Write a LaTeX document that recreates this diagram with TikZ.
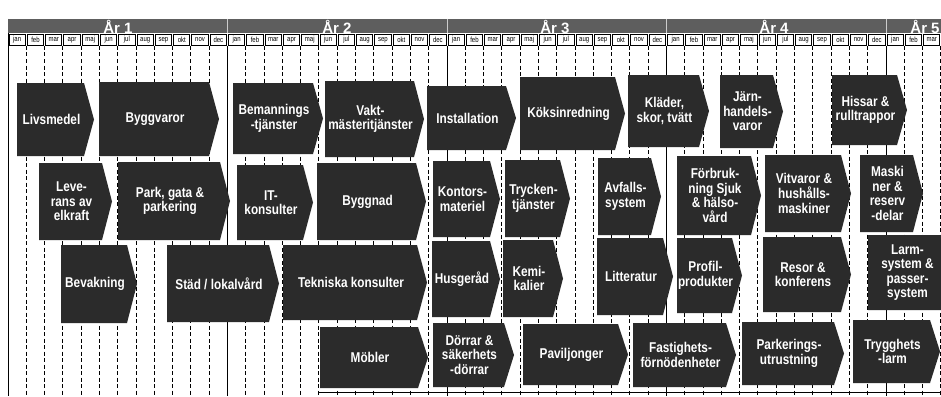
\documentclass[tikz,border=0pt]{standalone}
\usepackage{fontspec}
\setmainfont{Liberation Sans}
\newfontfamily\boxfont[FakeStretch=0.83]{Liberation Sans}
\newfontfamily\monfont[FakeStretch=0.8]{Liberation Sans}
\newcommand\mymonth[1]{\ifcase#1 jan\or feb\or mar\or apr\or maj\or jun\or jul\or aug\or sep\or okt\or nov\or dec\fi}
\tikzset{
  boxfill/.style={fill=black!83},
  boxtext/.style={text=white, font=\boxfont\bfseries\fontsize{14.2}{14.6}\selectfont, align=center, inner sep=0pt},
  band/.style={fill=black!63},
  yeartext/.style={text=white, font=\bfseries\fontsize{15}{15}\selectfont, inner sep=0pt},
  moncell/.style={draw=black, line width=0.9pt, fill=white},
  montext/.style={font=\monfont\fontsize{7.5}{8}\selectfont, inner sep=0pt},
  grid dash/.style={line width=1pt, dash pattern=on 4pt off 2.5pt},
  year line/.style={line width=1pt},
}
\newcommand\chev[6]{%
  \fill[boxfill] (#2,#3) -- ({#4-10},#3) -- (#4,{(#3+#5)/2}) -- ({#4-10},#5) -- (#2,#5) -- cycle;
  \node[boxtext] (#1) at ({(#2+#4-10)/2+1},{(#3+#5)/2}) {#6};
}
\begin{document}
\begin{tikzpicture}[x=1pt,y=-1pt]
\clip (0,0) rectangle (941,396);
\fill[white] (0,0) rectangle (941,396);
% grid lines
\foreach \k in {1,...,51} {
  \pgfmathsetmacro\xa{8+\k*18.292}
  \pgfmathtruncatemacro\m{mod(\k,12)}
  \ifnum\m=0
    \draw[year line] (\xa,46) -- (\xa,396);
  \else
    \draw[grid dash] (\xa,46) -- (\xa,396);
  \fi
}
\draw[year line] (8,19) -- (8,396);
\draw[line width=1pt] (318,392) -- (941,392);
% header band
\fill[band] (8,19) rectangle (941,33);
\foreach \k in {1,...,4} {
  \pgfmathsetmacro\xa{8+\k*219.5}
  \draw[white!80!black, line width=0.6pt] (\xa,19) -- (\xa,33);
}
\node[yeartext] (y1) at (118,26.5) {År 1};
\node[yeartext] (y2) at (337,26.5) {År 2};
\node[yeartext] (y3) at (555,26.5) {År 3};
\node[yeartext] (y4) at (774,26.5) {År 4};
\node[yeartext] (y5) at (925,26.5) {År 5};
% months
\foreach \k in {0,...,50} {
  \pgfmathsetmacro\xa{8+\k*18.292}
  \pgfmathsetmacro\xb{8+(\k+1)*18.292}
  \pgfmathsetmacro\xc{8+(\k+0.5)*18.292}
  \pgfmathtruncatemacro\m{mod(\k,12)}
  \draw[moncell] (\xa+1,34) rectangle (\xb-1,45.5);
  \node[montext] (m\k) at (\xc,39.8) {\mymonth{\m}};
}
% row 1
\chev{livs}{17}{83}{94}{156}{Livsmedel}
\chev{bygg}{99}{82}{219}{156}{Byggvaror}
\chev{beman}{233}{83}{323}{154}{Bemannings\\-tjänster}
\chev{vakt}{325}{81}{424}{157}{Vakt-\\mästeritjänster}
\chev{inst}{427}{86}{516}{150}{Installation}
\chev{koks}{520}{77}{625}{150}{Köksinredning}
\chev{klad}{628}{75}{709}{147}{Kläder,\\skor, tvätt}
\chev{jarn}{720}{75}{783}{148}{Järn-\\handels-\\varor}
\chev{hiss}{832}{75}{907}{145}{Hissar \&\\rulltrappor}
% row 2
\chev{leve}{39}{163}{112}{240}{Leve-\\rans av\\elkraft}
\chev{park}{118}{162}{230}{240}{Park, gata \&\\parkering}
\chev{it}{237}{165}{313}{240}{IT-\\konsulter}
\chev{byggnad}{317}{163}{426}{240}{Byggnad}
\chev{kontor}{433}{161}{500}{237}{Kontors-\\materiel}
\chev{tryck}{505}{160}{570}{237}{Trycken-\\tjänster}
\chev{avfall}{598}{158}{661}{235}{Avfalls-\\system}
\chev{forbr}{677}{156}{761}{235}{Förbruk-\\ning Sjuk\\\& hälso-\\vård}
\chev{vitv}{765}{155}{851}{232}{Vitvaror \&\\hushålls-\\maskiner}
\chev{mask}{860}{155}{923}{232}{Maski\\ner \&\\reserv\\-delar}
% row 3
\chev{bev}{61}{245}{137}{323}{Bevakning}
\chev{stad}{167}{245}{279}{322}{Städ / lokalvård}
\chev{tekn}{283}{245}{427}{320}{Tekniska konsulter}
\chev{husg}{432}{241}{500}{317}{Husgeråd}
\chev{kemi}{503}{240}{563}{317}{Kemi-\\kalier}
\chev{litt}{597}{238}{673}{315}{Litteratur}
\chev{prof}{677}{238}{742}{313}{Profil-\\produkter}
\chev{resor}{763}{237}{851}{312}{Resor \&\\konferens}
\chev{larm}{868}{235}{955}{310}{Larm-\\system \&\\passer-\\system}
% row 4
\chev{mobl}{320}{327}{428}{388}{Möbler}
\chev{dorr}{433}{323}{514}{387}{Dörrar \&\\säkerhets\\-dörrar}
\chev{pavil}{523}{324}{628}{385}{Paviljonger}
\chev{fast}{633}{323}{736}{387}{Fastighets-\\förnödenheter}
\chev{parkut}{742}{322}{844}{385}{Parkerings-\\utrustning}
\chev{trygg}{853}{320}{940}{383}{Trygghets\\-larm}
\end{tikzpicture}
\end{document}
